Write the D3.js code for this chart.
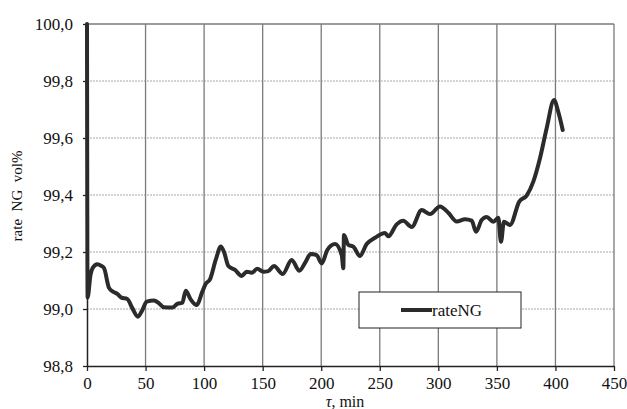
<!DOCTYPE html>
<html>
<head>
<meta charset="utf-8">
<script src="https://cdn.jsdelivr.net/npm/d3@7"></script>
<style>
  body { margin: 0; background: #fff; }
  svg text { font-family: 'Liberation Serif', serif !important; }
</style>
</head>
<body>
<div id="chart-area"></div>
<script>
// time, min
var times = [0, 0.5, 3, 5, 8.8, 12, 14.5, 18.8, 22.5, 25.9, 29.3, 34.4, 38.7, 43.5, 47.2, 51,
    57.2, 61.5, 65.7, 72.9, 77.1, 81.4, 84.3, 88.5, 93.6, 98.5, 101.3, 105, 109.9, 114.3,
    117, 120.7, 126.4, 132.1, 136.4, 140.6, 145.4, 150.6, 154.8, 159.7, 167.1, 174.8, 181.3,
    186.2, 191, 196.1, 200.4, 205.2, 211.8, 217.5, 218.9, 219.4, 223.1, 227.4, 233,
    238.8, 245.9, 254.5, 257.3, 264.4, 270, 277.3, 285.8, 292.9, 301.4, 308.5, 315.7,
    322.8, 328.5, 332.2, 337, 341.3, 347, 351.2, 353.5, 356, 361.2, 369.1, 375.4, 381.1,
    386.8, 392.5, 398.8, 402.4, 406.2];
// rateNG, vol%
var rateNG = [100.0, 99.04, 99.12, 99.145, 99.157, 99.152, 99.144, 99.074, 99.06, 99.053, 99.04, 99.035, 99.003, 98.973, 98.996, 99.026,
    99.03, 99.02, 99.006, 99.005, 99.018, 99.022, 99.064, 99.034, 99.014, 99.061, 99.088, 99.104, 99.172, 99.219,
    99.2, 99.151, 99.137, 99.116, 99.131, 99.127, 99.141, 99.131, 99.133, 99.151, 99.123, 99.172, 99.134,
    99.162, 99.193, 99.189, 99.16, 99.207, 99.228, 99.189, 99.143, 99.26, 99.225, 99.219, 99.186,
    99.228, 99.25, 99.267, 99.255, 99.297, 99.31, 99.288, 99.347, 99.333, 99.36, 99.338, 99.307,
    99.315, 99.31, 99.271, 99.312, 99.323, 99.306, 99.32, 99.236, 99.306, 99.295, 99.377, 99.398, 99.447,
    99.529, 99.634, 99.733, 99.692, 99.628];

var xTicks = [0, 50, 100, 150, 200, 250, 300, 350, 400, 450];
var yTicks = [98.8, 99.0, 99.2, 99.4, 99.6, 99.8, 100.0];
var seriesName = 'rateNG';

var margin = { top: 24, right: 13, bottom: 43, left: 87 },
    width = 627 - margin.left - margin.right,
    height = 409 - margin.top - margin.bottom;

var svg = d3.select('#chart-area')
    .append('svg')
        .attr('width', 627)
        .attr('height', 409);

var g = svg.append('g')
    .attr('transform', 'translate(' + margin.left + ',' + margin.top + ')');

var x = d3.scaleLinear().domain([0, 450]).range([0, width]);
var y = d3.scaleLinear().domain([98.8, 100]).range([height, 0]);

var fmt = d => d3.format('.1f')(d).replace('.', ',');

// horizontal grid (dotted)
g.selectAll('.hgrid')
    .data(yTicks.filter(d => d > 98.8 && d < 100))
    .enter().append('line')
        .attr('x1', 0).attr('x2', width)
        .attr('y1', d => y(d)).attr('y2', d => y(d))
        .attr('stroke', '#a8a8a8')
        .attr('stroke-width', 1)
        .attr('stroke-dasharray', '2,1');

// vertical grid (solid)
g.selectAll('.vgrid')
    .data(xTicks.filter(d => d > 0))
    .enter().append('line')
        .attr('x1', d => x(d)).attr('x2', d => x(d))
        .attr('y1', 0).attr('y2', height)
        .attr('stroke', '#7a7a7a')
        .attr('stroke-width', 1.3);

// top border
g.append('line')
    .attr('x1', 0).attr('x2', width)
    .attr('y1', 0).attr('y2', 0)
    .attr('stroke', '#7a7a7a')
    .attr('stroke-width', 1.3);

// X axis
var xAxis = g.append('g')
    .attr('transform', 'translate(0,' + height + ')')
    .call(d3.axisBottom(x).tickValues(xTicks).tickSize(5).tickPadding(6).tickSizeOuter(0));
xAxis.attr('font-family', 'Liberation Serif').attr('font-size', 17);
xAxis.select('.domain').attr('stroke', '#222').attr('stroke-width', 1.3);
xAxis.selectAll('.tick line').attr('stroke', '#222').attr('stroke-width', 1.3);
xAxis.selectAll('text').attr('fill', '#111');

// Y axis
var yAxis = g.append('g')
    .call(d3.axisLeft(y).tickValues(yTicks).tickFormat(fmt).tickSize(4).tickPadding(10).tickSizeOuter(0));
yAxis.attr('font-family', 'Liberation Serif').attr('font-size', 17);
yAxis.select('.domain').attr('stroke', '#222').attr('stroke-width', 1.5);
yAxis.selectAll('.tick line').attr('stroke', '#222').attr('stroke-width', 1.3);
yAxis.selectAll('text').attr('fill', '#111');

// data line
var data = times.map((t, i) => ({ t: t, v: rateNG[i] }));
var line = d3.line()
    .x(d => x(d.t))
    .y(d => y(d.v))
    .curve(d3.curveMonotoneX);

g.append('path')
    .datum(data)
    .attr('fill', 'none')
    .attr('stroke', '#2b2b2b')
    .attr('stroke-width', 4)
    .attr('stroke-linejoin', 'round')
    .attr('stroke-linecap', 'round')
    .attr('d', line);

// Legend
var legend = svg.append('g').attr('transform', 'translate(359,292)');
legend.append('rect')
    .attr('width', 162).attr('height', 36)
    .attr('fill', '#fff')
    .attr('stroke', '#222')
    .attr('stroke-width', 1);
legend.append('line')
    .attr('x1', 42).attr('x2', 73)
    .attr('y1', 18).attr('y2', 18)
    .attr('stroke', '#2b2b2b')
    .attr('stroke-width', 4);
legend.append('text')
    .attr('x', 73).attr('y', 24)
    .attr('font-family', 'Liberation Serif')
    .attr('font-size', 17)
    .attr('fill', '#111')
    .text(seriesName);

// Y-Axis Label
svg.append('text')
    .attr('text-anchor', 'middle')
    .attr('transform', 'translate(22,' + 196 + ') rotate(-90)')
    .attr('font-family', 'Liberation Serif')
    .attr('font-size', 15)
    .attr('fill', '#111')
    .style('white-space', 'pre')
    .text('rate  NG  vol%');

// X-Axis Label
var xl = svg.append('text')
    .attr('text-anchor', 'middle')
    .attr('x', 345)
    .attr('y', 407)
    .attr('font-family', 'Liberation Serif')
    .attr('font-size', 16)
    .attr('fill', '#111');
xl.append('tspan').attr('font-style', 'italic').text('τ');
xl.append('tspan').text(', min');
</script>
</body>
</html>
